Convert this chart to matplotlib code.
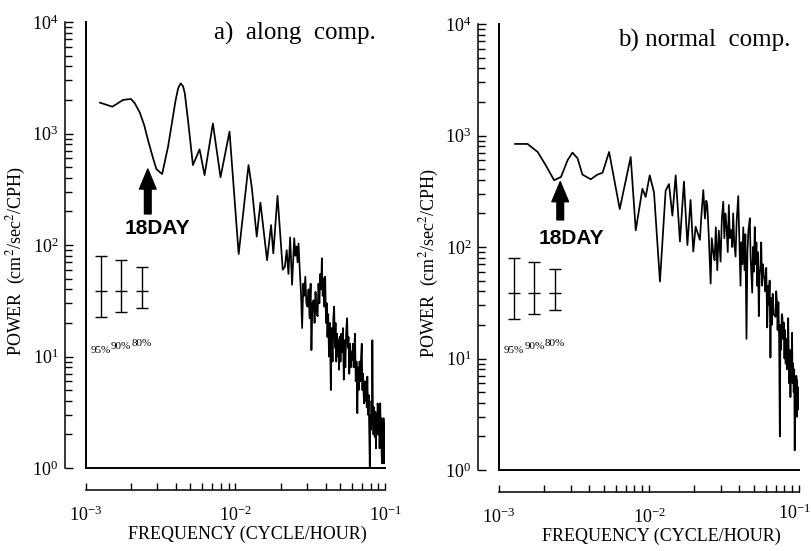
import numpy as np
import matplotlib
matplotlib.use('Agg')
from matplotlib import pyplot as plt
from matplotlib.ticker import LogLocator, FuncFormatter, NullFormatter
import matplotlib.transforms as mtransforms

plt.rcParams['font.family'] = ['Liberation Serif', 'DejaVu Serif']
plt.rcParams['mathtext.fontset'] = 'stix'

# ---- panel a) along component ----
freq_a = [0.00124, 0.0015, 0.00177, 0.0020, 0.00212, 0.00229, 0.00245, 0.0026,
          0.00281, 0.00296, 0.00323, 0.00354, 0.00396, 0.00413, 0.0043, 0.00446,
          0.00458, 0.00481, 0.00519, 0.00575, 0.00621, 0.00706,
          0.00794, 0.00912, 0.0105, 0.01222, 0.01285, 0.01387, 0.01468, 0.01626,
          0.0173, 0.0179, 0.0191, 0.0207, 0.0214,
          0.0220, 0.0226, 0.0232, 0.0239, 0.0247, 0.0252, 0.0256, 0.0260, 0.0264,
          0.0269, 0.0274, 0.0279, 0.0284, 0.0288, 0.0293, 0.0298, 0.0303, 0.0308,
          0.0313, 0.0318, 0.0322, 0.0327, 0.0333, 0.0338, 0.0343, 0.0348, 0.0354,
          0.0359, 0.0364, 0.0369, 0.0374, 0.0378, 0.0383, 0.0388, 0.0393, 0.0398,
          0.0403, 0.0408, 0.0412, 0.0417, 0.0422, 0.0428, 0.0434, 0.0440, 0.0446,
          0.0451, 0.0457, 0.0462, 0.0467, 0.0472, 0.0478, 0.0483, 0.0488, 0.0493,
          0.0498, 0.0504, 0.0510, 0.0517, 0.0523, 0.0530, 0.0537, 0.0543, 0.0550,
          0.0558, 0.0564, 0.0570, 0.0577, 0.0584, 0.0590, 0.0596, 0.0603, 0.0610,
          0.0617, 0.0623, 0.0630, 0.0637, 0.0645, 0.0653, 0.0660, 0.0668, 0.0676,
          0.0684, 0.0692, 0.0699, 0.0706, 0.0713, 0.0720, 0.0725, 0.0732, 0.0740,
          0.0748, 0.0755, 0.0762, 0.0770, 0.0778, 0.0785, 0.0791, 0.0798, 0.0805,
          0.0812, 0.0818, 0.0823, 0.0830, 0.0837, 0.0845, 0.0854, 0.0862, 0.0870,
          0.0878, 0.0886, 0.0892, 0.0898, 0.0905, 0.0912, 0.0920, 0.0929, 0.0937,
          0.0945, 0.0950, 0.0957, 0.0963, 0.0970, 0.0978, 0.0985, 0.0992, 0.0997,
          0.1000]
power_a = [1890, 1740, 2000, 2040, 1866, 1540, 1191, 870,
           600, 478, 433, 763, 1930, 2540, 2820, 2650,
           2290, 1321, 521, 721, 424, 1230,
           405, 1040, 83, 521, 329, 119, 240, 73,
           151, 84, 276, 60, 64,
           90, 55, 117, 44, 115, 80, 97, 70, 103,
           60, 38, 18, 45, 35, 52, 30, 28, 40,
           22, 45, 11.4, 30, 32, 20, 38, 25, 23,
           45, 30, 55, 40, 76, 35, 50, 28, 52,
           20, 30, 15, 24, 10, 20, 5, 18, 9,
           22, 28, 12, 20, 9, 16, 10, 14, 7.6,
           15, 9, 16, 11, 18, 6.2, 14, 8, 17,
           22, 12, 15, 7, 13, 8, 11, 9.3, 13,
           8, 12, 16, 6, 9, 3.1, 8, 5, 9,
           6, 10, 13, 5, 7, 4.5, 3.8, 6, 4,
           5.5, 3.5, 6.6, 3, 4.5, 2, 1.03, 3, 2.2,
           4, 2.5, 14, 3, 2, 3.5, 1.9, 3.2, 1.5,
           3, 2, 3.8, 3.5, 2, 3.2, 1.5, 3.8, 2,
           2.8, 1.3, 1.1, 2.5, 1.2, 2.8, 1.1, 2.2, 2.5,
           1.3]

# ---- panel b) normal component ----
freq_b = [0.00128, 0.00155, 0.00181, 0.00205, 0.00233, 0.00259, 0.00287, 0.00309,
          0.00334, 0.0036,
          0.00409, 0.00453, 0.0049, 0.00542, 0.00638, 0.00755, 0.00816, 0.00904,
          0.0095, 0.01011, 0.0108, 0.01183, 0.01291, 0.01359, 0.01432, 0.01506,
          0.01608, 0.0171, 0.01803, 0.01893, 0.01973, 0.02045, 0.02184,
          0.0224, 0.02301, 0.0236, 0.0241, 0.02447, 0.0250, 0.02576, 0.0262,
          0.0268, 0.02737, 0.0279, 0.02851, 0.0292, 0.0300, 0.0306, 0.03126,
          0.0318, 0.0323, 0.03289, 0.0335, 0.03406, 0.0346, 0.03532, 0.0359,
          0.0364, 0.0370, 0.03776, 0.0384, 0.03935, 0.0400, 0.04074, 0.0413,
          0.0419, 0.0425, 0.04335, 0.0439, 0.04467, 0.0453, 0.0460, 0.0470,
          0.0476, 0.04876, 0.0493, 0.0500, 0.0507, 0.0514, 0.0520, 0.0527,
          0.0533, 0.05395, 0.0546, 0.05534, 0.0560, 0.0567, 0.0575, 0.0583,
          0.05888, 0.0596, 0.0605, 0.0614, 0.0622, 0.0630, 0.0637, 0.0645,
          0.06521, 0.0660, 0.0668, 0.0677, 0.06966, 0.0705, 0.0713, 0.0720,
          0.0729, 0.0737, 0.0745, 0.0752, 0.0760, 0.0768, 0.0775, 0.0783,
          0.0791, 0.0800, 0.0808, 0.0815, 0.0822, 0.0830, 0.0841, 0.0847,
          0.0853, 0.0860, 0.0867, 0.0877, 0.0885, 0.0892, 0.0899, 0.0906,
          0.0914, 0.0922, 0.0929, 0.0936, 0.0944, 0.0952, 0.0960, 0.0965,
          0.0971, 0.0978, 0.0985, 0.0992, 0.1000]
power_b = [840, 840, 712, 541, 397, 425, 603, 702,
           624, 446,
           405, 446, 463, 712, 219, 641, 141, 333,
           281, 439, 309, 49, 320, 367, 191, 439,
           112, 386, 104, 264, 91, 152, 116,
           200, 324, 180, 260, 238, 130, 47, 120,
           90, 76, 150, 62, 140, 74, 180, 255,
           120, 200, 152, 90, 238, 120, 142, 100,
           200, 110, 82, 170, 286, 120, 45, 110,
           70, 150, 62, 130, 15, 90, 140, 181,
           80, 39, 100, 60, 151, 70, 110, 45,
           90, 24, 55, 68, 110, 45, 70, 55,
           52, 40, 65, 19, 45, 30, 50, 10.2,
           35, 20, 38, 25, 23.6, 40, 32, 18,
           32, 15, 2.0, 20, 12, 25, 23.6, 15,
           21, 10, 18, 9, 15, 8, 9.3, 23,
           12, 6, 12, 4.5, 10, 7, 17, 6,
           9, 5, 8, 1.5, 6, 4, 7, 3,
           6.4, 4, 5.5, 3.5, 4.7]

# confidence bars (95%, 90%, 80%)
ci_labels = ['95%', '90%', '80%']
ci_freq = [0.00126, 0.00172, 0.00237]
ci_mid = [38.6, 38.6, 38.6]
ci_low = [22.8, 24.9, 27.0]
ci_high = [80, 73, 64]


def sci_fmt(v, pos):
    return r'$\mathregular{10^{%d}}$' % int(round(np.log10(v)))


def sci_fmt_no_last(v, pos):
    # right-most label of panel b is drawn by hand so it stays inside the page
    if v > 0.05:
        return ''
    return sci_fmt(v, pos)


def draw_panel(ax, freq, power, title, title_y, arrow_f, arrow_lo, arrow_hi,
               day_f, day_p, pct_y, xfmt):
    ax.plot(freq, power, color='black', lw=1.25, clip_on=True)
    ax.set_xscale('log')
    ax.set_yscale('log')
    ax.set_xlim(1e-3, 1e-1)
    ax.set_ylim(1, 1e4)

    # detached axis lines like the original drawing
    for s in ['top', 'right']:
        ax.spines[s].set_visible(False)
    ax.spines['left'].set_position(('outward', 15))
    ax.spines['bottom'].set_position(('outward', 16))
    ax.spines['left'].set_linewidth(1.1)
    ax.spines['bottom'].set_linewidth(1.1)
    ax.axvline(1e-3, color='black', lw=1.4, clip_on=False)
    ax.axhline(1, color='black', lw=1.4, clip_on=False)

    ax.xaxis.set_major_locator(LogLocator(base=10, numticks=5))
    ax.xaxis.set_minor_locator(LogLocator(base=10, subs=np.arange(2, 10), numticks=10))
    ax.yaxis.set_major_locator(LogLocator(base=10, numticks=6))
    ax.yaxis.set_minor_locator(LogLocator(base=10, subs=np.arange(2, 10), numticks=10))
    ax.xaxis.set_major_formatter(FuncFormatter(xfmt))
    ax.yaxis.set_major_formatter(FuncFormatter(sci_fmt))
    ax.xaxis.set_minor_formatter(NullFormatter())
    ax.yaxis.set_minor_formatter(NullFormatter())
    ax.tick_params(axis='both', which='both', direction='in', width=1.0)
    ax.tick_params(axis='y', which='major', length=6, labelsize=13, pad=5)
    ax.tick_params(axis='y', which='minor', length=5)
    ax.tick_params(axis='x', which='major', length=5, labelsize=13, pad=11)
    ax.tick_params(axis='x', which='minor', length=5)

    ax.text(-0.232, 0.465, r'POWER  (cm$^2$/sec$^2$/CPH)', rotation=90,
            transform=ax.transAxes, ha='center', va='center', fontsize=13)
    ax.text(0.54, -0.148, 'FREQUENCY (CYCLE/HOUR)', transform=ax.transAxes,
            ha='center', va='center', fontsize=13)
    ax.text(0.97, title_y, title, transform=ax.transAxes, ha='right',
            va='center', fontsize=18)

    # 18 day arrow
    ax.annotate('', xy=(arrow_f, arrow_hi), xytext=(arrow_f, arrow_lo),
                arrowprops=dict(arrowstyle='simple,head_length=0.9,head_width=0.75,tail_width=0.3',
                                color='black', mutation_scale=16, shrinkA=0, shrinkB=0))
    ax.text(day_f, day_p, '18DAY', ha='center', va='center', fontsize=15,
            fontweight='bold', family='Liberation Sans')

    # confidence intervals
    lower = np.array(ci_mid) - np.array(ci_low)
    upper = np.array(ci_high) - np.array(ci_mid)
    ax.errorbar(ci_freq, ci_mid, yerr=[lower, upper], fmt='_', ms=8,
                color='black', ecolor='black', elinewidth=1.0, capsize=4,
                capthick=1.0, mew=1.0)
    for lbl, f, y in zip(ci_labels, ci_freq, pct_y):
        ax.text(f, y, lbl, ha='center', va='center', fontsize=8)


fig = plt.figure(figsize=(8.12, 5.51), dpi=100)
ax1 = fig.add_axes([86 / 812, 83 / 551, 299 / 812, 446 / 551])
ax2 = fig.add_axes([499 / 812, 81 / 551, 300 / 812, 446 / 551])

draw_panel(ax1, freq_a, power_a, 'a)  along  comp.', 0.975,
           0.00259, 190, 480, 0.00302, 142, [11.4, 12.2, 13.2], sci_fmt)
draw_panel(ax2, freq_b, power_b, 'b) normal  comp.', 0.964,
           0.00256, 175, 385, 0.00304, 118, [11.9, 12.7, 13.5], sci_fmt_no_last)

# last x tick label of panel b, kept just inside the right edge
trans = mtransforms.blended_transform_factory(fig.transFigure, ax2.transAxes)
ax2.text(0.998, -0.098, r'$\mathregular{10^{-1}}$', transform=trans,
         ha='right', va='center', fontsize=13)

fig.savefig('out.png', dpi=100)
